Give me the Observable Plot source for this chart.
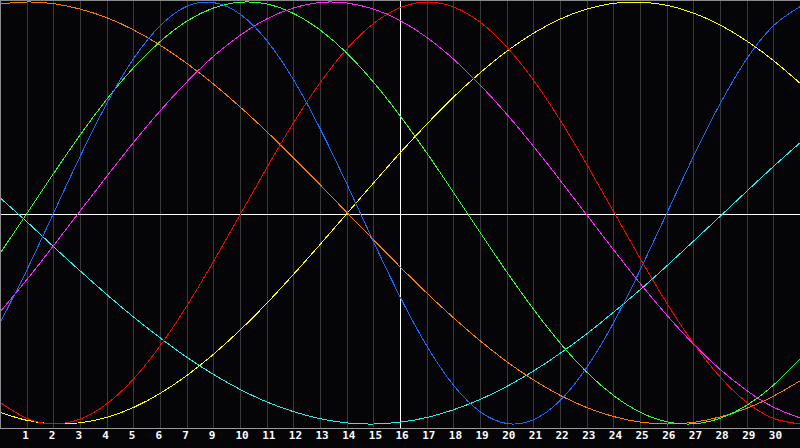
<!DOCTYPE html>
<html><head><meta charset="utf-8">
<script src="https://cdn.jsdelivr.net/npm/d3@7"></script>
<script src="https://cdn.jsdelivr.net/npm/@observablehq/plot@0.6"></script>
<style>html,body{margin:0;padding:0;background:#050508;overflow:hidden}#chart{width:800px;height:448px}</style>
</head><body><div id="chart"></div>
<script>
const days = [0,1,2,3,4,5,6,7,8,9,10,11,12,13,14,15,16,17,18,19,20,21,22,23,24,25,26,27,28,29,30];
const tickPositions = [1,2,3,4,5,6,7,8,9,10,11,12,13,14,15,16,17,18,19,20,21,22,23,24,25,26,27,28,29];
const tickLabels = ["1","2","3","4","5","6","7","9","10","11","12","13","14","15","16","17","18","19","20","21","22","23","24","25","26","27","28","29","30"];
const todayPos = 15;

const orange  = [0.991,1.000,0.992,0.966,0.925,0.867,0.794,0.708,0.610,0.501,0.384,0.260,0.132,0.001,-0.129,-0.257,-0.381,-0.498,-0.607,-0.706,-0.792,-0.865,-0.923,-0.965,-0.991,-1.000,-0.992,-0.966,-0.925,-0.867,-0.794];
const green   = [-0.189,0.000,0.189,0.372,0.541,0.690,0.814,0.910,0.972,0.999,0.990,0.945,0.866,0.756,0.618,0.458,0.282,0.095,-0.095,-0.282,-0.458,-0.618,-0.756,-0.866,-0.945,-0.990,-0.999,-0.972,-0.910,-0.814,-0.690];
const blue    = [-0.517,-0.267,0.002,0.272,0.522,0.733,0.889,0.980,0.997,0.941,0.815,0.629,0.396,0.134,-0.139,-0.401,-0.633,-0.818,-0.943,-0.998,-0.979,-0.887,-0.729,-0.518,-0.267,0.002,0.272,0.521,0.733,0.889,0.979];
const magenta = [-0.466,-0.314,-0.153,0.012,0.176,0.336,0.486,0.623,0.744,0.843,0.921,0.972,0.998,0.995,0.966,0.911,0.831,0.728,0.605,0.466,0.314,0.153,-0.012,-0.176,-0.336,-0.486,-0.623,-0.743,-0.843,-0.921,-0.972];
const red     = [-0.899,-0.974,-1.000,-0.976,-0.903,-0.785,-0.627,-0.438,-0.227,-0.005,0.218,0.430,0.620,0.779,0.899,0.974,1.000,0.976,0.903,0.785,0.627,0.438,0.227,0.005,-0.218,-0.430,-0.620,-0.779,-0.899,-0.974,-1.000];
const yellow  = [-0.946,-0.983,-0.999,-0.994,-0.968,-0.921,-0.854,-0.769,-0.668,-0.553,-0.426,-0.289,-0.147,-0.001,0.144,0.287,0.423,0.551,0.666,0.768,0.853,0.920,0.967,0.994,0.999,0.984,0.947,0.890,0.814,0.721,0.613];
const cyan    = [0.070,-0.043,-0.161,-0.276,-0.388,-0.494,-0.593,-0.685,-0.766,-0.837,-0.896,-0.942,-0.975,-0.995,-1.000,-0.991,-0.969,-0.932,-0.883,-0.821,-0.748,-0.664,-0.571,-0.469,-0.362,-0.249,-0.132,-0.014,0.105,0.222,0.335];

const seriesNames  = ["cyan","yellow","orange","green","magenta","red","blue"];
const seriesValues = [cyan, yellow, orange, green, magenta, red, blue];
const seriesColors = ["#22f0f0","#ffff00","#ff7a00","#33ff33","#ff22ff","#ff0000","#1a6cff"];

const chart = Plot.plot({
  width: 800, height: 448,
  marginTop: 0, marginRight: 0, marginBottom: 20, marginLeft: 0,
  style: {background: "#050508", color: "white", fontFamily: "DejaVu Sans Mono", fontSize: "11px", fontWeight: "bold"},
  x: {domain: [0, 30], axis: null},
  y: {domain: [-1, 1], range: [423.5, 1.5], axis: null},
  marks: [
    Plot.ruleX(tickPositions, {stroke: "#3a3a3a", shapeRendering: "crispEdges"}),
    Plot.ruleY([0], {stroke: "white", dy: 1, shapeRendering: "crispEdges"}),
    Plot.ruleX([todayPos], {stroke: "white", shapeRendering: "crispEdges"}),
    ...seriesNames.map((name, s) =>
      Plot.line(days, {x: (d) => d, y: (d, i) => seriesValues[s][i], stroke: seriesColors[s], curve: "natural", strokeWidth: 1, shapeRendering: "crispEdges"})
    ),
    Plot.ruleX([0], {stroke: "#8a8a8a", shapeRendering: "crispEdges"}),
    Plot.ruleY([1], {stroke: "#8a8a8a", dy: -1.5, shapeRendering: "crispEdges"}),
    Plot.ruleY([-1], {stroke: "#9a9a9a", dy: 4.5, shapeRendering: "crispEdges"}),
    Plot.text(tickPositions, {x: (d) => d, text: (d, i) => tickLabels[i], frameAnchor: "bottom", dy: 10.5, dx: -5, textAnchor: "start", fill: "white", fontFamily: "DejaVu Sans Mono", fontWeight: "bold", fontSize: 11})
  ]
});
document.getElementById("chart").appendChild(chart);
</script>
</body></html>
